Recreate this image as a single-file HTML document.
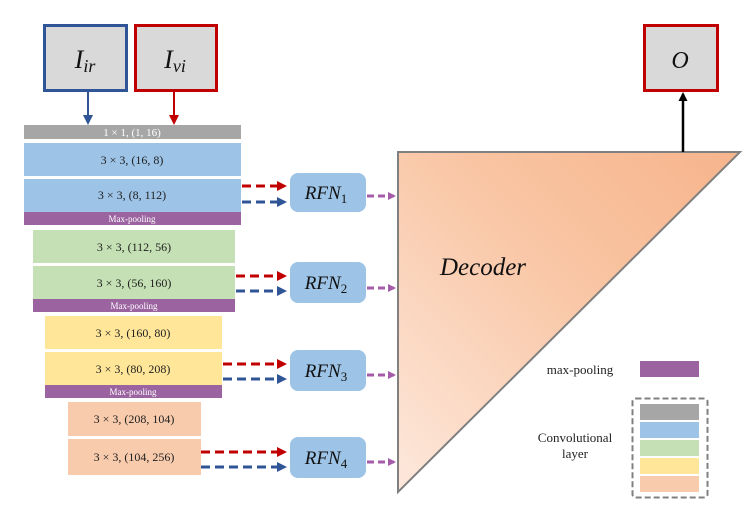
<!DOCTYPE html>
<html><head><meta charset="utf-8"><style>
html,body{margin:0;padding:0;background:#fff;width:752px;height:516px;overflow:hidden}
svg{display:block}
.t{font-family:"Liberation Serif",serif;font-size:12px;fill:#222;text-anchor:middle}
.w{font-family:"Liberation Serif",serif;font-size:9px;fill:#fff;text-anchor:middle}
.m{font-family:"Liberation Serif",serif;font-style:italic;fill:#111;text-anchor:middle}
</style></head><body>
<svg width="752" height="516" viewBox="0 0 752 516">
<defs>
<linearGradient id="g" x1="0" y1="1" x2="1" y2="0">
<stop offset="0" stop-color="#fde8dc"/><stop offset="0.6" stop-color="#f9c4a2"/><stop offset="1" stop-color="#f6b48c"/>
</linearGradient>
<marker id="ar" markerWidth="10" markerHeight="10" refX="7" refY="5" orient="auto" markerUnits="userSpaceOnUse"><path d="M0,0 L10,5 L0,10z" fill="#c00000"/></marker>
<marker id="ab" markerWidth="10" markerHeight="10" refX="7" refY="5" orient="auto" markerUnits="userSpaceOnUse"><path d="M0,0 L10,5 L0,10z" fill="#2f5597"/></marker>
<marker id="ap" markerWidth="8" markerHeight="8" refX="6" refY="4" orient="auto" markerUnits="userSpaceOnUse"><path d="M0,0 L8,4 L0,8z" fill="#a55ca8"/></marker>
<marker id="ak" markerWidth="9" markerHeight="9" refX="7" refY="4.5" orient="auto" markerUnits="userSpaceOnUse"><path d="M0,0 L9,4.5 L0,9z" fill="#000"/></marker>
</defs>
<rect x="44.5" y="25.5" width="82" height="65" fill="#d9d9d9" stroke="#2f5597" stroke-width="3"/>
<text x="85" y="68" class="m" font-size="26">I<tspan font-size="18" dy="4">ir</tspan></text>
<rect x="135.5" y="25.5" width="81" height="65" fill="#d9d9d9" stroke="#c00000" stroke-width="3"/>
<text x="175" y="68" class="m" font-size="26">I<tspan font-size="18" dy="4">vi</tspan></text>
<line x1="88" y1="92" x2="88" y2="122" stroke="#2f5597" stroke-width="2" marker-end="url(#ab)"/>
<line x1="174" y1="92" x2="174" y2="122" stroke="#c00000" stroke-width="2" marker-end="url(#ar)"/>
<rect x="24" y="125" width="217" height="14" fill="#a6a6a6"/><text x="132" y="136" class="w" style="font-size:11px">1 × 1, (1, 16)</text>
<rect x="24" y="143" width="217" height="33" fill="#9dc3e6"/><text x="132" y="164" class="t">3 × 3, (16, 8)</text>
<rect x="24" y="179" width="217" height="33" fill="#9dc3e6"/><text x="132" y="199" class="t">3 × 3, (8, 112)</text>
<rect x="24" y="212" width="217" height="13" fill="#9b64a0"/><text x="132" y="222" class="w">Max-pooling</text>
<rect x="33" y="230" width="202" height="33" fill="#c5e0b4"/><text x="134" y="251" class="t">3 × 3, (112, 56)</text>
<rect x="33" y="266" width="202" height="33" fill="#c5e0b4"/><text x="134" y="287" class="t">3 × 3, (56, 160)</text>
<rect x="33" y="299" width="202" height="13" fill="#9b64a0"/><text x="134" y="309" class="w">Max-pooling</text>
<rect x="45" y="316" width="177" height="33" fill="#ffe699"/><text x="133" y="337" class="t">3 × 3, (160, 80)</text>
<rect x="45" y="352" width="177" height="33" fill="#ffe699"/><text x="133" y="373" class="t">3 × 3, (80, 208)</text>
<rect x="45" y="385" width="177" height="13" fill="#9b64a0"/><text x="133" y="395" class="w">Max-pooling</text>
<rect x="68" y="402" width="133" height="34" fill="#f8cbad"/><text x="134" y="423" class="t">3 × 3, (208, 104)</text>
<rect x="68" y="439" width="133" height="36" fill="#f8cbad"/><text x="134" y="461" class="t">3 × 3, (104, 256)</text>
<g stroke-width="3" stroke-dasharray="9,5" fill="none">
<line x1="242" y1="186" x2="284" y2="186" stroke="#c00000" marker-end="url(#ar)"/>
<line x1="242" y1="202" x2="284" y2="202" stroke="#2f5597" marker-end="url(#ab)"/>
<line x1="236" y1="276" x2="284" y2="276" stroke="#c00000" marker-end="url(#ar)"/>
<line x1="236" y1="291" x2="284" y2="291" stroke="#2f5597" marker-end="url(#ab)"/>
<line x1="223" y1="364" x2="284" y2="364" stroke="#c00000" marker-end="url(#ar)"/>
<line x1="223" y1="379" x2="284" y2="379" stroke="#2f5597" marker-end="url(#ab)"/>
<line x1="201" y1="452" x2="284" y2="452" stroke="#c00000" marker-end="url(#ar)"/>
<line x1="201" y1="467" x2="284" y2="467" stroke="#2f5597" marker-end="url(#ab)"/>
</g>
<g stroke-width="3" stroke-dasharray="7,4" stroke="#a55ca8">
<line x1="367" y1="196" x2="394" y2="196" marker-end="url(#ap)"/>
<line x1="367" y1="288" x2="394" y2="288" marker-end="url(#ap)"/>
<line x1="367" y1="375" x2="394" y2="375" marker-end="url(#ap)"/>
<line x1="367" y1="462" x2="394" y2="462" marker-end="url(#ap)"/>
</g>
<g fill="#9dc3e6">
<rect x="290" y="173" width="76" height="39" rx="8"/>
<rect x="290" y="262" width="76" height="41" rx="8"/>
<rect x="290" y="350" width="76" height="41" rx="8"/>
<rect x="290" y="437" width="76" height="41" rx="8"/>
</g>
<text x="326" y="199" class="m" font-size="19">RFN<tspan font-size="13" dy="4" font-style="normal">1</tspan></text>
<text x="326" y="289" class="m" font-size="19">RFN<tspan font-size="13" dy="4" font-style="normal">2</tspan></text>
<text x="326" y="377" class="m" font-size="19">RFN<tspan font-size="13" dy="4" font-style="normal">3</tspan></text>
<text x="326" y="464" class="m" font-size="19">RFN<tspan font-size="13" dy="4" font-style="normal">4</tspan></text>
<polygon points="398,152 740,152 398,492" fill="url(#g)" stroke="#808080" stroke-width="2"/>
<text x="483" y="275" class="m" font-size="25">Decoder</text>
<rect x="644.5" y="25.5" width="73" height="65" fill="#d9d9d9" stroke="#c00000" stroke-width="3"/>
<text x="680" y="68" class="m" font-size="24">O</text>
<line x1="683" y1="152" x2="683" y2="94" stroke="#000" stroke-width="2.5" marker-end="url(#ak)"/>
<text x="580" y="374" font-family="Liberation Serif,serif" font-size="13" fill="#222" text-anchor="middle">max-pooling</text>
<rect x="640" y="361" width="59" height="16" fill="#9b64a0"/>
<rect x="632.5" y="398.5" width="75" height="99" rx="3" fill="none" stroke="#808080" stroke-width="2" stroke-dasharray="6,3"/>
<rect x="640" y="404" width="59" height="16" fill="#a6a6a6"/>
<rect x="640" y="422" width="59" height="16" fill="#9dc3e6"/>
<rect x="640" y="440" width="59" height="16" fill="#c5e0b4"/>
<rect x="640" y="458" width="59" height="16" fill="#ffe699"/>
<rect x="640" y="476" width="59" height="16" fill="#f8cbad"/>
<text x="575" y="442" font-family="Liberation Serif,serif" font-size="13" fill="#222" text-anchor="middle">Convolutional</text>
<text x="575" y="458" font-family="Liberation Serif,serif" font-size="13" fill="#222" text-anchor="middle">layer</text>
</svg>
</body></html>
